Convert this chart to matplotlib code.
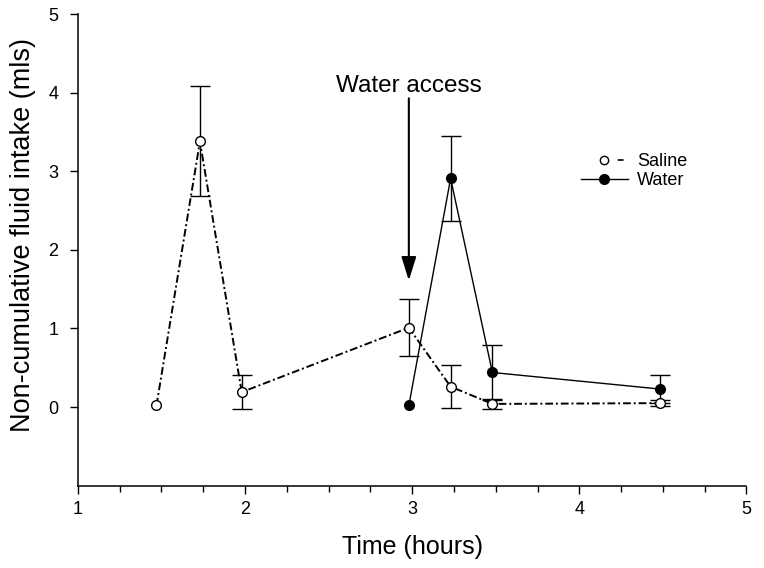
import matplotlib
matplotlib.use("Agg")
import matplotlib.pyplot as plt
from matplotlib.lines import Line2D
from matplotlib.ticker import MultipleLocator

plt.rcParams["font.family"] = ["Liberation Sans", "DejaVu Sans"]

# ---------- data ----------
saline_t = [1.47, 1.73, 1.98, 2.98, 3.23, 3.48, 4.48]
saline_y = [0.02, 3.38, 0.19, 1.01, 0.26, 0.04, 0.05]
saline_err = [0.0, 0.70, 0.22, 0.36, 0.27, 0.06, 0.04]

water_t = [2.98, 3.23, 3.48, 4.48]
water_y = [0.02, 2.91, 0.44, 0.23]
water_err = [0.0, 0.54, 0.35, 0.18]

x_ticks = [1, 2, 3, 4, 5]
y_ticks = [0, 1, 2, 3, 4, 5]

access_t = 2.98


def draw_series(ax, t, y, err, ls, lw, face):
    # error bars only where there is an error (no caps on zero-error points)
    keep = [i for i, e in enumerate(err) if e > 0]
    ax.errorbar([t[i] for i in keep], [y[i] for i in keep], yerr=[err[i] for i in keep],
                fmt="none", ecolor="black", elinewidth=1.0, capsize=7, capthick=1.0, zorder=2)
    ax.plot(t, y, ls=ls, lw=lw, color="black", marker="o", mfc=face, mec="black",
            ms=7, mew=1.0, zorder=3)


# ---------- plot ----------
fig = plt.figure(figsize=(7.64, 5.68), dpi=100)
ax = fig.add_axes([0.102, 0.145, 0.875, 0.83])

draw_series(ax, saline_t, saline_y, saline_err, (0, (4, 1.5, 1, 1.5)), 1.4, "white")
draw_series(ax, water_t, water_y, water_err, "-", 1.0, "black")

# water access arrow
ax.annotate("", xy=(access_t, 1.61), xytext=(access_t, 3.93),
            arrowprops=dict(arrowstyle="-|>,head_length=0.8,head_width=0.25", color="black",
                            lw=1.5, mutation_scale=18, shrinkA=0, shrinkB=0))
ax.text(access_t, 4.01, "Water access", ha="center", va="baseline", fontsize=17.5)

ax.set_xlim(1, 5)
ax.set_ylim(-1, 5)
ax.set_xticks(x_ticks)
ax.set_yticks(y_ticks)
ax.xaxis.set_minor_locator(MultipleLocator(0.25))
ax.tick_params(axis="both", which="major", direction="out", length=6, width=1,
               labelsize=13)
ax.tick_params(axis="x", which="major", pad=5)
ax.tick_params(axis="y", which="major", pad=8)
ax.tick_params(axis="x", which="minor", direction="out", length=4, width=1)
for side in ("top", "right"):
    ax.spines[side].set_visible(False)
for side in ("left", "bottom"):
    ax.spines[side].set_linewidth(1.1)

ax.set_xlabel("Time (hours)", fontsize=18, labelpad=12)
ax.set_ylabel("Non-cumulative fluid intake (mls)", fontsize=19.5)
ax.yaxis.set_label_coords(-0.062, 0.532)

saline_h = Line2D([], [], color="black", lw=1.2, ls=(0, (0, 22, 3.6, 40)),
                  marker="o", mfc="white", mec="black", ms=6)
water_h = Line2D([], [], color="black", lw=1.0, ls="-",
                 marker="o", mfc="black", mec="black", ms=7)
ax.legend([saline_h, water_h], ["Saline", "Water"], loc="upper left",
          bbox_to_anchor=(0.728, 0.74), frameon=False, fontsize=13,
          handlelength=2.6, handletextpad=0.5, labelspacing=0.1)

fig.savefig("out.png", dpi=100)
